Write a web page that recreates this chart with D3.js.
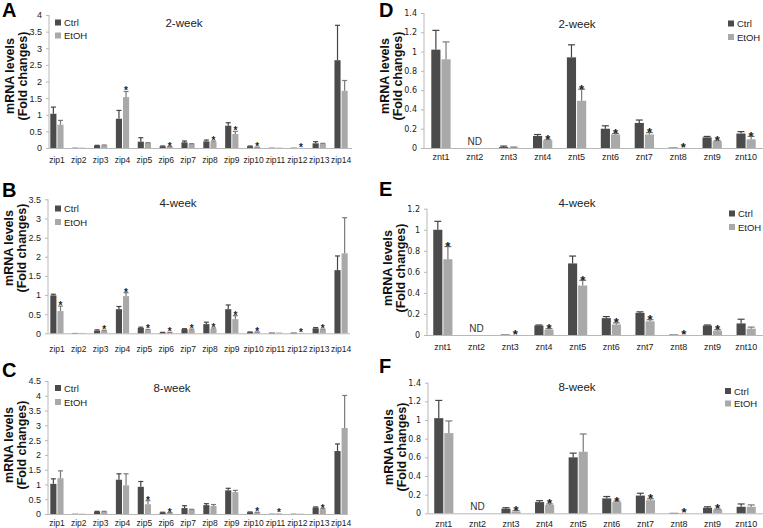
<!DOCTYPE html>
<html><head><meta charset="utf-8">
<script src="https://cdn.jsdelivr.net/npm/d3@7"></script>
<style>body{margin:0;background:#fff}svg{display:block}</style>
</head><body><svg id="c" width="763" height="528"></svg>
<script>
// ---------- DATA ----------
const zipGenes = ["zip1","zip2","zip3","zip4","zip5","zip6","zip7","zip8","zip9","zip10","zip11","zip12","zip13","zip14"];
const zntGenes = ["znt1","znt2","znt3","znt4","znt5","znt6","znt7","znt8","znt9","znt10"];
const seriesNames = ["Ctrl","EtOH"];

const zip2wkCtrl    = [1.03,0.01,0.07,0.88,0.19,0.05,0.17,0.20,0.67,0.05,0.01,0.01,0.14,2.64];
const zip2wkCtrlErr = [0.20,0,0.01,0.25,0.12,0.01,0.04,0.04,0.09,0.01,0,0,0.05,1.05];
const zip2wkEtoh    = [0.70,0.01,0.08,1.53,0.15,0.04,0.12,0.19,0.42,0.02,0.01,0.005,0.13,1.72];
const zip2wkEtohErr = [0.13,0,0.01,0.17,0.01,0.005,0.01,0.02,0.08,0.005,0,0,0.01,0.31];
const zip2wkStar    = [0,0,0,1,0,1,0,1,1,1,0,1,0,0];

const zip4wkCtrl    = [0.99,0.01,0.07,0.63,0.14,0.02,0.11,0.24,0.63,0.03,0.02,0.02,0.13,1.65];
const zip4wkCtrlErr = [0.03,0,0.02,0.07,0.02,0.005,0.01,0.05,0.11,0.005,0,0,0.02,0.37];
const zip4wkEtoh    = [0.58,0.01,0.07,0.97,0.08,0.02,0.09,0.12,0.37,0.03,0.02,0.01,0.10,2.09];
const zip4wkEtohErr = [0.13,0,0.01,0.09,0.02,0.005,0.02,0.02,0.09,0.005,0,0,0.01,0.93];
const zip4wkStar    = [1,0,1,1,1,1,1,1,1,1,0,1,1,0];

const zip8wkCtrl    = [1.02,0.01,0.08,1.16,0.92,0.05,0.20,0.30,0.80,0.06,0.01,0.01,0.22,2.13];
const zip8wkCtrlErr = [0.17,0,0.01,0.20,0.18,0.01,0.08,0.05,0.07,0.01,0,0,0.02,0.24];
const zip8wkEtoh    = [1.21,0.01,0.08,0.97,0.33,0.04,0.15,0.27,0.74,0.05,0.02,0.01,0.16,2.91];
const zip8wkEtohErr = [0.25,0,0.01,0.39,0.12,0.01,0.01,0.05,0.06,0.01,0,0,0.02,1.10];
const zip8wkStar    = [0,0,0,0,1,1,0,0,0,1,1,0,1,0];

const znt2wkCtrl    = [1.02,null,0.01,0.125,0.94,0.20,0.26,0.005,0.11,0.15];
const znt2wkCtrlErr = [0.20,0,0.01,0.015,0.13,0.03,0.03,0,0.01,0.02];
const znt2wkEtoh    = [0.92,null,0.005,0.08,0.49,0.14,0.14,0,0.07,0.09];
const znt2wkEtohErr = [0.18,0,0.005,0.005,0.12,0.01,0.02,0,0.005,0.03];
const znt2wkStar    = [0,0,0,1,1,1,1,1,1,1];

const znt4wkCtrl    = [1.00,null,0.005,0.09,0.68,0.16,0.21,0.005,0.09,0.11];
const znt4wkCtrlErr = [0.08,0,0,0.005,0.07,0.015,0.01,0,0.005,0.04];
const znt4wkEtoh    = [0.72,null,0,0.05,0.47,0.10,0.13,0,0.04,0.06];
const znt4wkEtohErr = [0.12,0,0,0.01,0.05,0.015,0.015,0,0.01,0.015];
const znt4wkStar    = [1,0,1,1,1,1,1,1,1,0];

const znt8wkCtrl    = [1.02,null,0.05,0.12,0.60,0.16,0.19,0.005,0.06,0.07];
const znt8wkCtrlErr = [0.19,0,0.01,0.015,0.045,0.02,0.025,0,0.01,0.03];
const znt8wkEtoh    = [0.86,null,0.02,0.09,0.66,0.12,0.14,0.003,0.04,0.07];
const znt8wkEtohErr = [0.13,0,0.01,0.01,0.19,0.01,0.015,0,0.005,0.02];
const znt8wkStar    = [0,0,1,1,0,1,1,1,1,0];

const zip2wkTicks = [0,0.5,1,1.5,2,2.5,3,3.5,4];
const zip4wkTicks = [0,0.5,1,1.5,2,2.5,3,3.5];
const zip8wkTicks = [0,0.5,1,1.5,2,2.5,3,3.5,4,4.5];
const znt14Ticks  = [0,0.2,0.4,0.6,0.8,1,1.2,1.4];
const znt12Ticks  = [0,0.2,0.4,0.6,0.8,1,1.2];
const periodTitles = ["2-week","4-week","8-week"];
const yTitleLines = ["mRNA levels","(Fold changes)"];
const notDetected = "ND";

// ---------- DRAW ----------
const svg = d3.select("#c");
const CTRL = "#4b4b4b", ETOH = "#a9a9a9";
const SANS = "Liberation Sans, Arial";

function panel(o){
  const g = svg.append("g");
  const y = d3.scaleLinear().domain([0, o.ticks[o.ticks.length-1]]).range([o.yBot, o.yTop]);
  const x = d3.scaleBand().domain(o.cats).range([o.bx0, o.bx1]);
  const bw = x.bandwidth()*o.bwFrac;
  g.append("line").attr("x1",o.ax).attr("x2",o.ax).attr("y1",o.yTop).attr("y2",o.yBot)
    .attr("stroke","#b8b8b8").attr("stroke-width",1);
  g.append("line").attr("x1",o.ax).attr("x2",o.axEnd).attr("y1",o.yBot+0.5).attr("y2",o.yBot+0.5)
    .attr("stroke","#b8b8b8").attr("stroke-width",1);
  const yAxis = d3.axisLeft(y).tickValues(o.ticks).tickSize(3).tickPadding(o.tickPad)
    .tickFormat(d=>String(+d.toFixed(1)));
  const ga = g.append("g").attr("transform",`translate(${o.ax},0)`).call(yAxis);
  ga.select(".domain").remove();
  ga.selectAll(".tick line").attr("stroke","#b8b8b8");
  ga.selectAll(".tick text").attr("fill","#222").attr("font-family",o.tickFont)
    .attr("font-size",o.tickSize);
  g.selectAll(".cl").data(o.cats).join("text")
    .attr("x",d=>x(d)+x.bandwidth()/2).attr("y",o.labY)
    .attr("text-anchor","middle").attr("font-family",SANS)
    .attr("font-size",o.catSize).attr("fill","#222").text(d=>d);
  const series = [{v:o.ctrl,e:o.ctrlErr,c:CTRL,ec:"#444",off:-bw-0.5},
                  {v:o.etoh,e:o.etohErr,c:ETOH,ec:"#7a7a7a",off:0.5}];
  series.forEach(s=>{
    o.cats.forEach((cat,i)=>{
      const val = s.v[i];
      if(val===null) return;
      const cx = x(cat)+x.bandwidth()/2;
      const x0 = cx + s.off;
      g.append("rect").attr("x",x0).attr("width",bw)
        .attr("y",y(val)).attr("height",Math.max(0,y(0)-y(val))).attr("fill",s.c);
      if(s.e[i]>0){
        const mx = x0+bw/2, ty = y(val+s.e[i]);
        g.append("line").attr("x1",mx).attr("x2",mx).attr("y1",y(val)).attr("y2",ty)
          .attr("stroke",s.ec).attr("stroke-width",1.2);
        g.append("line").attr("x1",mx-o.cap).attr("x2",mx+o.cap).attr("y1",ty).attr("y2",ty)
          .attr("stroke",s.ec).attr("stroke-width",1.2);
      }
    });
  });
  o.cats.forEach((cat,i)=>{
    if(!o.star[i]) return;
    const cx = x(cat)+x.bandwidth()/2 + 0.5 + bw/2;
    const top = y((o.etoh[i]||0)+o.etohErr[i]);
    g.append("text").attr("x",cx).attr("y",top-1.5+0.45*o.starSize).attr("text-anchor","middle")
      .attr("font-family",SANS).attr("font-size",o.starSize).attr("font-weight","bold")
      .attr("fill","#222").text("*");
  });
  o.cats.forEach((cat,i)=>{
    if(o.ctrl[i]!==null) return;
    g.append("text").attr("x",x(cat)+x.bandwidth()/2).attr("y",o.yBot-3)
      .attr("text-anchor","middle").attr("font-family",SANS)
      .attr("font-size",10).attr("fill","#333").text(notDetected);
  });
  g.append("text").attr("x",o.tx).attr("y",o.ty).attr("text-anchor","middle")
    .attr("font-family",SANS).attr("font-size",11.5).attr("fill","#222").text(o.title);
  seriesNames.forEach((nm,k)=>{
    const ly = o.legY[k];
    g.append("rect").attr("x",o.legX).attr("y",ly-3).attr("width",6).attr("height",6)
      .attr("fill",k===0?CTRL:ETOH);
    g.append("text").attr("x",o.legX+9).attr("y",ly+3.5).attr("font-family",SANS)
      .attr("font-size",9.5).attr("fill","#222").text(nm);
  });
  yTitleLines.forEach((t,k)=>{
    g.append("text").attr("transform",`translate(${o.ax+o.ytx[k]},${o.ytc}) rotate(-90)`)
      .attr("text-anchor","middle").attr("font-family",SANS)
      .attr("font-weight","bold").attr("font-size",12.5).attr("fill","#111").text(t);
  });
  svg.append("text").attr("x",o.lx).attr("y",o.ly).attr("font-family",SANS)
    .attr("font-weight","bold").attr("font-size",20).attr("fill","#000").text(o.letter);
}

const leftBase = {cats:zipGenes, bwFrac:0.28, cap:2.5, tickFont:SANS, tickSize:9, tickPad:4,
  catSize:8.5, starSize:10, ytx:[-35.5,-22.5], bx0:46, bx1:352};
const rightBase = {cats:zntGenes, bwFrac:0.27, cap:3.5, tickFont:"DejaVu Sans, Verdana", tickSize:8, tickPad:4,
  catSize:9, starSize:13, ytx:[-35.5,-22.5], bx1:763};

panel(Object.assign({},leftBase,{letter:"A",lx:2,ly:16.5,ax:49,axEnd:352,yTop:15,yBot:148,ticks:zip2wkTicks,
  labY:162.5,ctrl:zip2wkCtrl,ctrlErr:zip2wkCtrlErr,etoh:zip2wkEtoh,etohErr:zip2wkEtohErr,star:zip2wkStar,
  title:periodTitles[0],tx:184,ty:27,legX:55,legY:[22.5,35.5],ytc:76}));
panel(Object.assign({},leftBase,{letter:"B",lx:2,ly:197,ax:48,axEnd:350,yTop:199.3,yBot:333.3,ticks:zip4wkTicks,
  labY:351.5,ctrl:zip4wkCtrl,ctrlErr:zip4wkCtrlErr,etoh:zip4wkEtoh,etohErr:zip4wkEtohErr,star:zip4wkStar,
  title:periodTitles[1],tx:178,ty:207,legX:55,legY:[208.5,222],ytc:248}));
panel(Object.assign({},leftBase,{letter:"C",lx:2,ly:377,ax:48,axEnd:348,yTop:381,yBot:514,ticks:zip8wkTicks,
  labY:526,ctrl:zip8wkCtrl,ctrlErr:zip8wkCtrlErr,etoh:zip8wkEtoh,etohErr:zip8wkEtohErr,star:zip8wkStar,
  title:periodTitles[2],tx:172,ty:392,legX:55,legY:[388,402],ytc:445}));
panel(Object.assign({},rightBase,{letter:"D",lx:379,ly:16.5,ax:424,axEnd:763,bx0:424,yTop:13,yBot:148,ticks:znt14Ticks,
  labY:160,ctrl:znt2wkCtrl,ctrlErr:znt2wkCtrlErr,etoh:znt2wkEtoh,etohErr:znt2wkEtohErr,star:znt2wkStar,
  title:periodTitles[0],tx:577,ty:28,legX:728,legY:[23.5,37],ytc:76}));
panel(Object.assign({},rightBase,{letter:"E",lx:379,ly:196,ax:427,axEnd:763,bx0:426,yTop:208.7,yBot:335,ticks:znt12Ticks,
  labY:350,ctrl:znt4wkCtrl,ctrlErr:znt4wkCtrlErr,etoh:znt4wkEtoh,etohErr:znt4wkEtohErr,star:znt4wkStar,
  title:periodTitles[1],tx:577,ty:207,legX:729,legY:[213.5,227],ytc:268}));
panel(Object.assign({},rightBase,{letter:"F",lx:379,ly:373,ax:428,axEnd:763,bx0:427,yTop:382.7,yBot:513.3,ticks:znt14Ticks,
  labY:527,ctrl:znt8wkCtrl,ctrlErr:znt8wkCtrlErr,etoh:znt8wkEtoh,etohErr:znt8wkEtohErr,star:znt8wkStar,
  title:periodTitles[2],tx:577,ty:391,legX:725,legY:[391,403.5],ytc:447}));
</script></body></html>
